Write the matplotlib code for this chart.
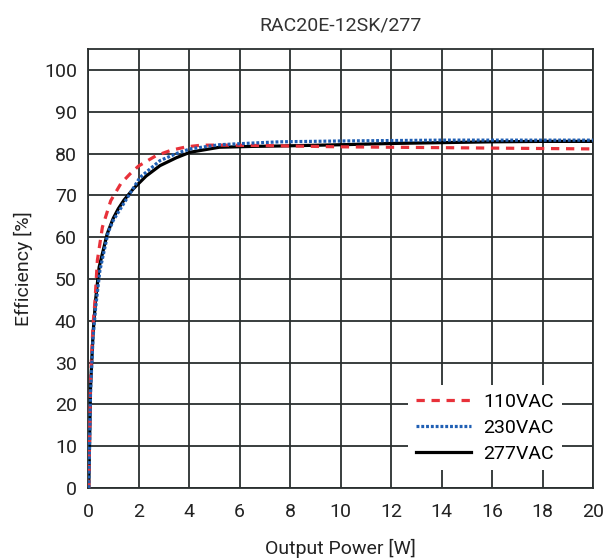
import numpy as np
import matplotlib
matplotlib.use('Agg')
import matplotlib.pyplot as plt
from matplotlib import font_manager

# font: condensed look if available
names = {f.name for f in font_manager.fontManager.ttflist}
fam = 'Liberation Sans Narrow' if 'Liberation Sans Narrow' in names else 'Roboto'
plt.rcParams['font.family'] = [fam, 'DejaVu Sans']

# data
w_110 = [0.03, 0.1, 0.2, 0.28, 0.37, 0.57, 0.9, 1.3, 1.66, 2.0, 2.7, 3.3, 3.9, 4.5,
         5.5, 7.0, 8.0, 10, 12, 14, 16, 18, 20]
e_110 = [0, 26, 39, 45, 54.4, 62.4, 68.7, 72.8, 75.1, 77, 79.5, 80.8, 81.6, 82.0,
         82.0, 81.9, 81.8, 81.6, 81.5, 81.4, 81.3, 81.2, 81.1]

w_230 = [0.03, 0.1, 0.2, 0.3, 0.47, 0.8, 1.0, 1.4, 2.06, 2.85, 3.5, 4.04, 5.2,
         6.5, 7.6, 10, 12, 14, 16, 18, 20]
e_230 = [0, 23, 36, 43, 52, 61.2, 64, 67.9, 74.3, 78.3, 80, 81.1, 82.1,
         82.5, 82.8, 83.0, 83.1, 83.2, 83.2, 83.2, 83.2]

w_277 = [0.03, 0.1, 0.2, 0.3, 0.44, 0.76, 1.0, 1.2, 1.43, 1.8, 2.3, 2.85, 3.5, 4.04,
         5.2, 6.5, 7.6, 10, 12, 14, 16, 18, 20]
e_277 = [0, 24, 37, 44.9, 52.8, 60.8, 64.5, 66.8, 68.9, 71.6, 74.6, 77.1, 79, 80.3,
         81.5, 81.7, 81.8, 82.1, 82.4, 82.6, 82.8, 82.9, 82.9]

x_ticks = list(range(0, 21, 2))
y_ticks = list(range(0, 101, 10))

fig = plt.figure(figsize=(6.04, 5.6), dpi=100)
ax = fig.add_axes([0.1457, 0.1286, 0.8361, 0.7839])

grid_c = '#2a2f2f'
ax.plot(w_110, e_110, color='#e8313a', lw=2.3, ls=(0, (2.6, 2.1)), label='110VAC', zorder=3)
ax.plot(w_230, e_230, color='#1f5fb4', lw=2.3, ls=(0, (0.9, 0.6)), label='230VAC', zorder=4)
ax.plot(w_277, e_277, color='black', lw=2.3, label='277VAC', zorder=2)

ax.set_xlim(0, 20)
ax.set_ylim(0, 105)
ax.set_xticks(x_ticks)
ax.set_yticks(y_ticks)
ax.tick_params(length=0, labelsize=14, colors='#222222')
ax.tick_params(axis='x', pad=11)
ax.tick_params(axis='y', pad=8)
ax.grid(True, color=grid_c, lw=1.3)
ax.set_axisbelow(True)
for s in ax.spines.values():
    s.set_color(grid_c)
    s.set_linewidth(1.3)

ax.set_title('RAC20E-12SK/277', fontsize=14, pad=13, color='#333333')
ax.set_xlabel('Output Power [W]', fontsize=14, labelpad=13, color='#222222')
ax.set_ylabel('Efficiency [%]', fontsize=14, labelpad=8, color='#222222')

leg = ax.legend(loc='lower right', bbox_to_anchor=(0.957, 0.018), fontsize=14,
                frameon=True, fancybox=False, edgecolor='none', framealpha=1,
                handlelength=2.8, handletextpad=0.65, labelspacing=0.4, borderpad=0.4)

fig.savefig('out.png', dpi=100)
